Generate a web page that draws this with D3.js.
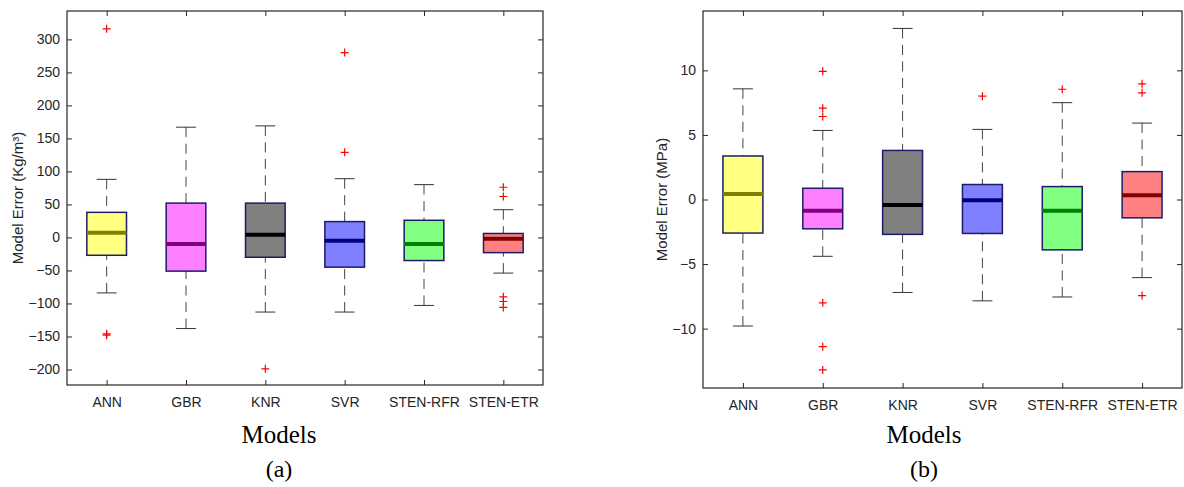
<!DOCTYPE html>
<html>
<head>
<meta charset="utf-8">
<script src="https://d3js.org/d3.v7.min.js"></script>
<style>
    body { margin: 0; background: #fff; }
    .tick text { font: 14px "Liberation Sans", Arial, sans-serif; fill: #262626; }
    .domain { display: none; }
    .tick line { stroke: #262626; }
    .ylab { font: 15px "Liberation Sans", Arial, sans-serif; fill: #262626; }
    .xlab { font: 25px "Liberation Serif", "Times New Roman", serif; fill: #000; }
    .sub { font: 24px "Liberation Serif", "Times New Roman", serif; fill: #000; }
</style>
</head>
<body>
<script>
    var width = 1184, height = 487;

    // categories
    var models = ["ANN", "GBR", "KNR", "SVR", "STEN-RFR", "STEN-ETR"];
    var fills = ["#ffff80", "#ff80ff", "#808080", "#8080ff", "#80ff80", "#ff8080"];
    var medColors = ["#808000", "#800080", "#000000", "#000080", "#008000", "#800000"];

    // (a) Kg/m3 : lower whisker, q1, median, q3, upper whisker
    var aLow = [-84, -138, -113, -113, -103, -54];
    var aQ1 = [-27, -51, -30, -45, -35, -23];
    var aMed = [7, -10, 4, -5, -10, -2];
    var aQ3 = [38, 52, 52, 24, 26, 6];
    var aHigh = [88, 167, 169, 89, 80, 42];
    var aOut = [[316, -146, -148], [], [-199], [280, 129], [], [76, 62, -90, -97, -106]];
    var aTicks = [-200, -150, -100, -50, 0, 50, 100, 150, 200, 250, 300];

    // (b) MPa
    var bLow = [-9.8, -4.4, -7.2, -7.85, -7.55, -6.05];
    var bQ1 = [-2.6, -2.27, -2.7, -2.63, -3.9, -1.42];
    var bMed = [0.43, -0.88, -0.42, -0.05, -0.88, 0.33];
    var bQ3 = [3.37, 0.87, 3.8, 1.16, 1.0, 2.16];
    var bHigh = [8.57, 5.35, 13.25, 5.43, 7.5, 5.92];
    var bOut = [[], [9.93, 7.07, 6.43, -8.0, -11.4, -13.2], [], [8.0], [8.54], [8.96, 8.26, -7.44]];
    var bTicks = [-10, -5, 0, 5, 10];

    var svg = d3.select("body").append("svg")
        .attr("width", width).attr("height", height);

    function panel(opt) {
        var x = d3.scaleLinear().domain([0.5, 6.5]).range([opt.left, opt.right]);
        var y = d3.scaleLinear().domain(opt.domain).range([opt.bottom, opt.top]);
        var g = svg.append("g");
        var bw = 0.5, cw = 0.25;

        models.forEach(function (m, i) {
            var c = i + 1;
            // whiskers
            [[opt.high[i], opt.q3[i]], [opt.low[i], opt.q1[i]]].forEach(function (w) {
                g.append("line")
                    .attr("x1", x(c)).attr("x2", x(c))
                    .attr("y1", y(w[0])).attr("y2", y(w[1]))
                    .attr("stroke", "#444").attr("stroke-width", 1)
                    .attr("stroke-dasharray", "10,6.5");
                g.append("line")
                    .attr("x1", x(c - cw / 2)).attr("x2", x(c + cw / 2))
                    .attr("y1", y(w[0])).attr("y2", y(w[0]))
                    .attr("stroke", "#333").attr("stroke-width", 1);
            });
            // box
            g.append("rect")
                .attr("x", x(c - bw / 2)).attr("width", x(c + bw / 2) - x(c - bw / 2))
                .attr("y", y(opt.q3[i])).attr("height", y(opt.q1[i]) - y(opt.q3[i]))
                .attr("fill", fills[i]).attr("stroke", "#1c1c6a").attr("stroke-width", 1.5);
            // median
            g.append("line")
                .attr("x1", x(c - bw / 2)).attr("x2", x(c + bw / 2))
                .attr("y1", y(opt.med[i])).attr("y2", y(opt.med[i]))
                .attr("stroke", medColors[i]).attr("stroke-width", 4);
            // outliers
            opt.out[i].forEach(function (v) {
                g.append("path")
                    .attr("d", "M" + (x(c) - 4) + "," + y(v) + "h8M" + x(c) + "," + (y(v) - 4) + "v8")
                    .attr("stroke", "#ff0000").attr("stroke-width", 1.2).attr("fill", "none");
            });
        });

        // axes with inward ticks on all four sides
        g.append("g").attr("transform", "translate(" + opt.left + ",0)")
            .call(d3.axisLeft(y).tickValues(opt.ticks).tickSize(-5).tickPadding(7));
        g.append("g").attr("transform", "translate(" + opt.right + ",0)")
            .call(d3.axisRight(y).tickValues(opt.ticks).tickSize(-5).tickFormat(""));
        g.append("g").attr("transform", "translate(0," + opt.bottom + ")")
            .call(d3.axisBottom(x).tickValues(d3.range(1, 7)).tickSize(-5).tickPadding(12)
                .tickFormat(function (d) { return models[d - 1]; }));
        g.append("g").attr("transform", "translate(0," + opt.top + ")")
            .call(d3.axisTop(x).tickValues(d3.range(1, 7)).tickSize(-5).tickFormat(""));
        g.append("rect")
            .attr("x", opt.left).attr("y", opt.top)
            .attr("width", opt.right - opt.left).attr("height", opt.bottom - opt.top)
            .attr("fill", "none").attr("stroke", "#262626").attr("stroke-width", 1.2);

        g.append("text").attr("class", "ylab")
            .attr("transform", "translate(" + opt.ylabX + "," + ((opt.top + opt.bottom) / 2) + ") rotate(-90)")
            .attr("text-anchor", "middle").attr("dy", "0.35em")
            .text(opt.ylabel);
        g.append("text").attr("class", "xlab")
            .attr("x", opt.capX).attr("y", 443).attr("text-anchor", "middle").text("Models");
        g.append("text").attr("class", "sub")
            .attr("x", opt.capX).attr("y", 477).attr("text-anchor", "middle").text(opt.sub);
    }

    panel({
        left: 67, right: 543, top: 11, bottom: 385, domain: [-223.5, 343],
        low: aLow, q1: aQ1, med: aMed, q3: aQ3, high: aHigh, out: aOut, ticks: aTicks,
        ylabel: "Model Error (Kg/m³)", ylabX: 18, capX: 279, sub: "(a)"
    });
    panel({
        left: 703, right: 1182, top: 11, bottom: 388, domain: [-14.6, 14.6],
        low: bLow, q1: bQ1, med: bMed, q3: bQ3, high: bHigh, out: bOut, ticks: bTicks,
        ylabel: "Model Error (MPa)", ylabX: 662, capX: 924, sub: "(b)"
    });
</script>
</body>
</html>
